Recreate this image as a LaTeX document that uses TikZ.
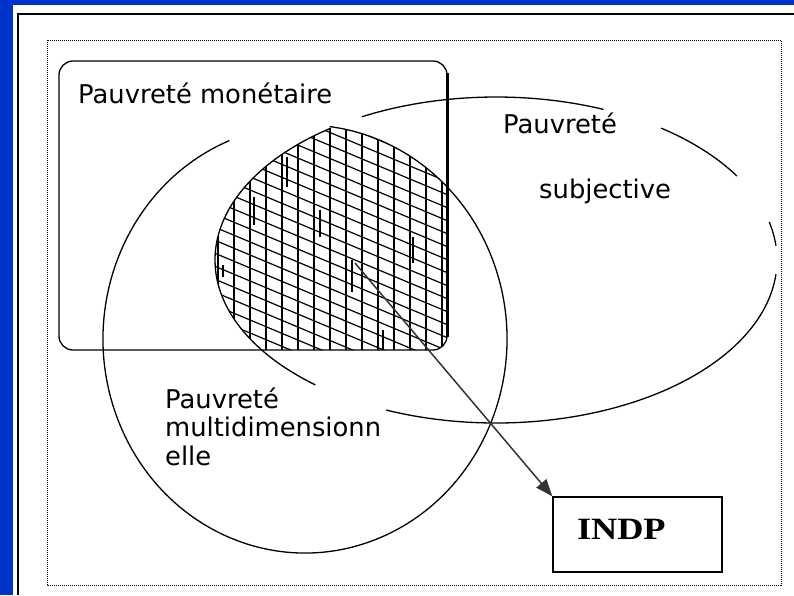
\documentclass[tikz,border=0pt]{standalone}
\usepackage{fontspec}
\newfontfamily\povfont{DejaVu Sans}
\newfontfamily\indpfont[FakeStretch=1.17]{Liberation Serif}
\usetikzlibrary{arrows.meta}
\definecolor{slideBlue}{HTML}{0033CC}
\definecolor{inkGrey}{HTML}{333333}

\begin{document}
\begin{tikzpicture}[x=1pt, y=-1pt,
    povtext/.style={font=\povfont\fontsize{25.8}{28.5}\selectfont, anchor=base west,
                    inner sep=0pt, align=left},
    setline/.style={line width=1.3pt},
    hatchline/.style={line width=1.2pt},
    hatchmark/.style={line width=2.6pt},
    indpbox/.style={rectangle, draw, line width=1.4pt, minimum width=169pt,
                    minimum height=75pt, inner sep=0pt, text width=169pt, align=left,
                    text height=21pt, text depth=12pt,
                    font=\indpfont\bfseries\fontsize{31}{31}\selectfont},
  ]
  \useasboundingbox (0,0) rectangle (794,595);
  \fill[slideBlue] (0,0) rectangle (794,595);
  \fill[white] (13,5) rectangle (794,595);
  \draw[line width=1.6pt] (18,595) -- (18,14) -- (794,14);
  \draw[line width=1pt, dash pattern=on 1pt off 1pt] (47,40) rectangle (781,585);

  \coordinate (subjC) at (496,260);
  \coordinate (multiC) at (305,339);
  \coordinate (src) at (355,263);

  \begin{scope}
    \clip[rounded corners=14pt] (59,61) rectangle (447,350);
    \clip (subjC) ellipse [x radius=281pt, y radius=163pt];
    \clip (multiC) ellipse [x radius=202pt, y radius=214pt];
    \foreach \x in {218,234,...,446}
      \draw[hatchline] (\x,100) -- (\x,360);
    \foreach \c in {0,13,...,351}
      \draw[hatchline] (200,\c) -- (460,\c+109);
    \draw[hatchmark] (287,157) -- (287,187);
    \draw[hatchmark] (254,197) -- (254,225);
    \draw[hatchmark] (320,210) -- (320,237);
    \draw[hatchmark] (352,260) -- (352,292);
    \draw[hatchmark] (413,237) -- (413,263);
    \draw[hatchmark] (223,265) -- (223,277);
    \draw[hatchmark] (383,330) -- (383,350);
  \end{scope}

  \draw[setline, rounded corners=14pt] (59,61) rectangle (447,350);
  \draw[line width=3pt] (447,73) -- (447,337);

  \draw[setline] ([shift={(112:202pt and 214pt)}]multiC)
    arc[start angle=112, end angle=443, x radius=202pt, y radius=214pt];

  \draw[setline] ([shift={(67.5:281pt and 163pt)}]subjC)
    arc[start angle=67.5, end angle=118.5, x radius=281pt, y radius=163pt];
  \draw[setline] ([shift={(31:281pt and 163pt)}]subjC)
    arc[start angle=31, end angle=54, x radius=281pt, y radius=163pt];
  \draw[setline] ([shift={(5:281pt and 163pt)}]subjC)
    arc[start angle=5, end angle=13.5, x radius=281pt, y radius=163pt];
  \draw[setline] ([shift={(-113:281pt and 163pt)}]subjC)
    arc[start angle=-113, end angle=-5, x radius=281pt, y radius=163pt];
  \draw[setline] ([shift={(126:281pt and 163pt)}]subjC)
    arc[start angle=126, end angle=230, x radius=281pt, y radius=163pt];

  \node[povtext] (mon) at (78,103) {Pauvret\'e mon\'etaire};
  \node[povtext] (subj1) at (503,133) {Pauvret\'e};
  \node[povtext] (subj2) at (539,198) {subjective};
  \node[povtext] (multi) at (165,465) {Pauvret\'e\\multidimensionn\\elle};

  \node[indpbox] (indp) at (637.5,534.5) {\hspace{24pt}INDP};
  \draw[inkGrey, line width=1.5pt, -{Triangle[length=17pt, width=13pt]}] (src) -- (indp.north west);
\end{tikzpicture}
\end{document}
